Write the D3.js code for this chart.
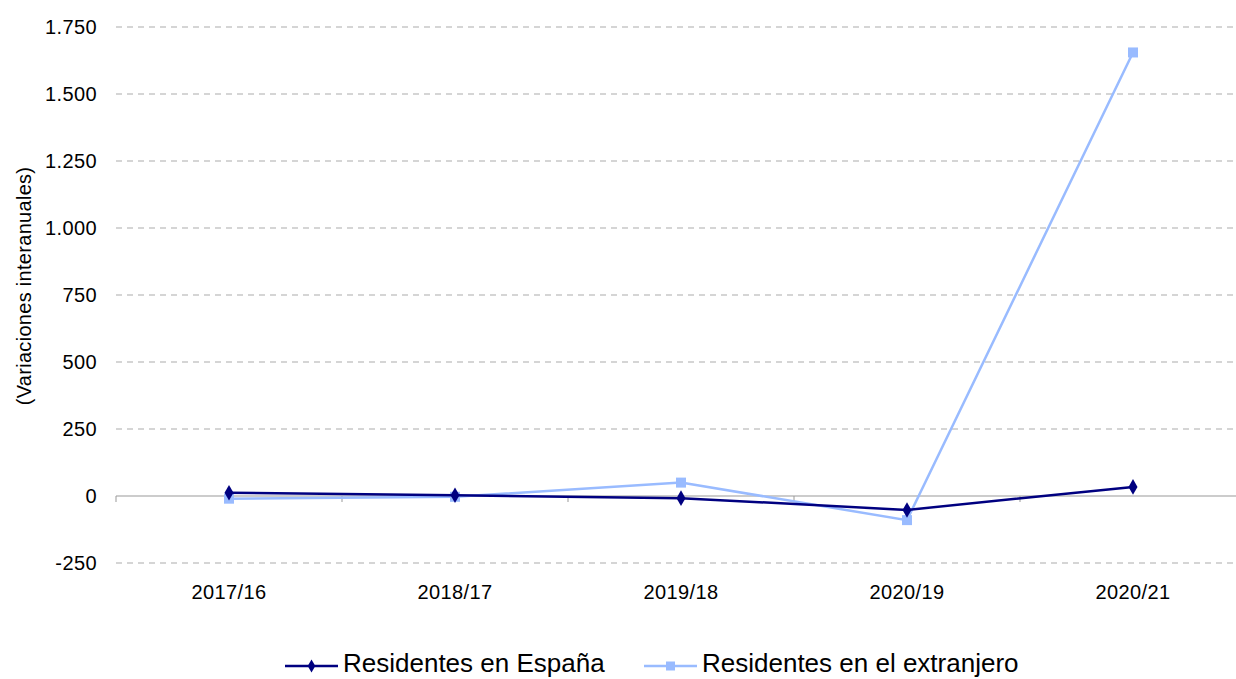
<!DOCTYPE html>
<html>
<head>
<meta charset="utf-8">
<script src="https://cdn.jsdelivr.net/npm/d3@7"></script>
<style>
  body { margin: 0; background: #fff; }
  text { font-family: "Liberation Sans", Arial, sans-serif; fill: #000; }
</style>
</head>
<body>
<svg id="chart"></svg>
<script>
var categories = ["2017/16", "2018/17", "2019/18", "2020/19", "2020/21"];
var espana = [12, 3, -8, -52, 34];
var extranjero = [-10, -3, 50, -90, 1655];
var yTicks = [-250, 0, 250, 500, 750, 1000, 1250, 1500, 1750];
var seriesNames = ["Residentes en España", "Residentes en el extranjero"];

var DARK_COLOR = '#000080';
var LIGHT_COLOR = '#99bbff';

var w = 1236;
var h = 679;

var svg = d3.select("#chart").attr("width", w).attr("height", h);

var xScale = d3.scaleBand().domain(categories).range([116, 1246]);
var yScale = d3.scaleLinear().domain([-250, 1750]).range([563, 27]);

var loc = d3.formatLocale({decimal: ",", thousands: ".", grouping: [3], currency: ["", "€"], minus: "-"});
var fmt = loc.format(",d");

// gridlines
svg.append("g")
  .selectAll("line")
  .data(yTicks.filter(function(d) { return d !== 0; }))
  .enter()
    .append("line")
    .attr("x1", 116)
    .attr("x2", w)
    .attr("y1", function(d) { return yScale(d); })
    .attr("y2", function(d) { return yScale(d); })
    .attr("stroke", "#c8c8c8")
    .attr("stroke-width", 1.5)
    .attr("stroke-dasharray", "6,5");

// y labels
svg.append("g")
  .selectAll("text")
  .data(yTicks)
  .enter()
    .append("text")
    .attr("x", 97)
    .attr("y", function(d) { return yScale(d); })
    .attr("dy", "0.35em")
    .attr("text-anchor", "end")
    .style("font-size", "20px")
    .style("letter-spacing", "0.4px")
    .text(function(d) { return fmt(d); });

// zero axis
svg.append("line")
  .attr("x1", 116).attr("x2", w)
  .attr("y1", yScale(0)).attr("y2", yScale(0))
  .attr("stroke", "#999").attr("stroke-width", 1);

svg.append("g")
  .selectAll("line")
  .data(categories)
  .enter()
    .append("line")
    .attr("x1", function(d) { return xScale(d); })
    .attr("x2", function(d) { return xScale(d); })
    .attr("y1", yScale(0))
    .attr("y2", yScale(0) + 6)
    .attr("stroke", "#999");

// x labels
svg.append("g")
  .selectAll("text")
  .data(categories)
  .enter()
    .append("text")
    .attr("x", function(d) { return xScale(d) + xScale.bandwidth() / 2; })
    .attr("y", 592)
    .attr("dy", "0.35em")
    .attr("text-anchor", "middle")
    .style("font-size", "20px")
    .style("letter-spacing", "0.4px")
    .text(function(d) { return d; });

// y title
svg.append("text")
  .attr("transform", "translate(24," + 286 + ") rotate(-90)")
  .attr("text-anchor", "middle")
  .attr("dy", "0.35em")
  .style("font-size", "20px")
  .style("letter-spacing", "0.3px")
  .text("(Variaciones interanuales)");

var cx = function(d, i) { return xScale(categories[i]) + xScale.bandwidth() / 2; };
var line = d3.line()
  .x(function(d, i) { return cx(d, i); })
  .y(function(d) { return yScale(d); });

var diamond = d3.symbol().type(d3.symbolDiamond).size(70);

function drawSeries(data, color, shape)
{
  svg.append("path")
    .datum(data)
    .attr("d", line)
    .attr("fill", "none")
    .attr("stroke", color)
    .attr("stroke-width", 2.5);

  if (shape === "square") {
    svg.append("g").selectAll("rect")
      .data(data)
      .enter()
        .append("rect")
        .attr("x", function(d, i) { return cx(d, i) - 5; })
        .attr("y", function(d) { return yScale(d) - 5; })
        .attr("width", 10)
        .attr("height", 10)
        .attr("fill", color);
  } else {
    svg.append("g").selectAll("path")
      .data(data)
      .enter()
        .append("path")
        .attr("d", diamond)
        .attr("transform", function(d, i) { return "translate(" + cx(d, i) + "," + yScale(d) + ")"; })
        .attr("fill", color);
  }
}

drawSeries(extranjero, LIGHT_COLOR, "square");
drawSeries(espana, DARK_COLOR, "diamond");

// legend
var legendY = 666;
var legendItems = [
  {name: seriesNames[0], color: DARK_COLOR, shape: "diamond", x: 285},
  {name: seriesNames[1], color: LIGHT_COLOR, shape: "square", x: 644}
];
legendItems.forEach(function(it) {
  svg.append("line")
    .attr("x1", it.x).attr("x2", it.x + 53)
    .attr("y1", legendY).attr("y2", legendY)
    .attr("stroke", it.color).attr("stroke-width", 2.5);
  if (it.shape === "square") {
    svg.append("rect")
      .attr("x", it.x + 26.5 - 4.5).attr("y", legendY - 4.5)
      .attr("width", 9).attr("height", 9)
      .attr("fill", it.color);
  } else {
    svg.append("path")
      .attr("d", d3.symbol().type(d3.symbolDiamond).size(50))
      .attr("transform", "translate(" + (it.x + 26.5) + "," + legendY + ")")
      .attr("fill", it.color);
  }
  svg.append("text")
    .attr("x", it.x + 58)
    .attr("y", 672)
    .style("font-size", "26px")
    .text(it.name);
});
</script>
</body>
</html>
